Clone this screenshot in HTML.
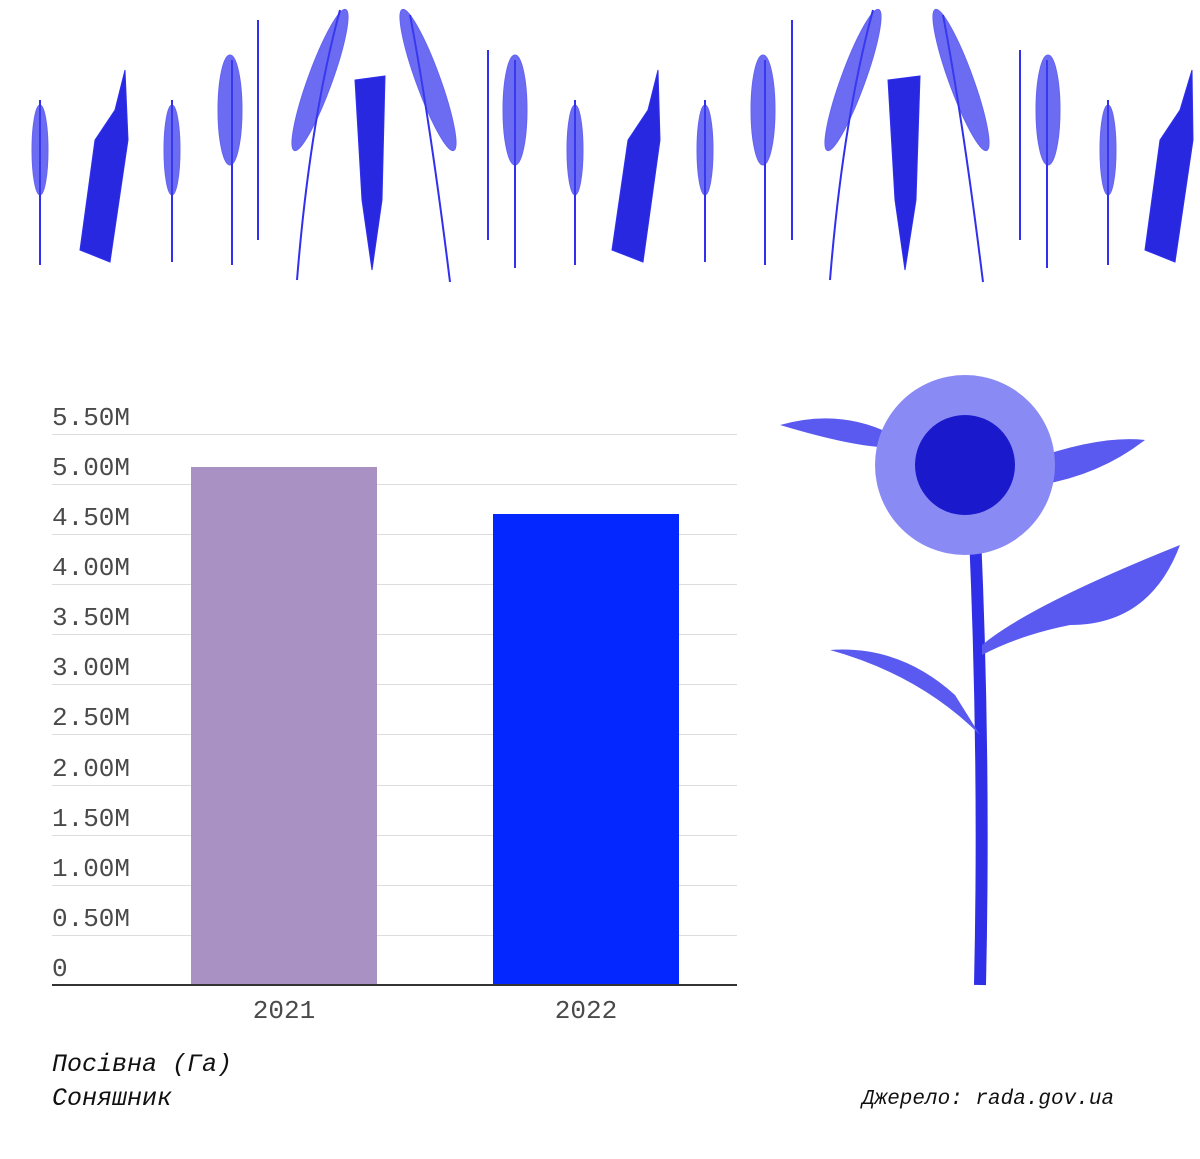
<!DOCTYPE html>
<html><head><meta charset="utf-8"><style>
body{margin:0;width:1200px;height:1159px;background:#fff;position:relative;overflow:hidden;font-family:"Liberation Mono",monospace}
.yl{position:absolute;left:52px;font-size:26px;color:#4a4a4a;line-height:1}
.g{position:absolute;left:52px;width:685px;height:1px;background:#ddd}
.xl{position:absolute;top:996px;font-size:26px;color:#4a4a4a;width:186px;text-align:center}
.t{position:absolute;left:52px;font-size:25px;font-style:italic;color:#111}
</style></head><body>
<svg width="1200" height="300" style="position:absolute;left:0;top:0" fill="#3b3bf0" stroke="#3030ee">
<g stroke-width="2" fill="none">
<path d="M40 265 V100"/><path d="M172 262 V100"/><path d="M232 265 V60"/><path d="M258 240 V20"/><path d="M297 280 Q310 120 340 10"/><path d="M450 282 Q430 120 410 15"/><path d="M488 240 V50"/><path d="M515 268 V60"/><path d="M575 265 V100"/><path d="M705 262 V100"/><path d="M765 265 V60"/><path d="M792 240 V20"/><path d="M830 280 Q843 120 873 10"/><path d="M983 282 Q963 120 943 15"/><path d="M1020 240 V50"/><path d="M1047 268 V60"/><path d="M1108 265 V100"/>
</g>
<g opacity="0.75">
<ellipse cx="40" cy="150" rx="8" ry="45"/><ellipse cx="172" cy="150" rx="8" ry="45"/><ellipse cx="230" cy="110" rx="12" ry="55"/><ellipse cx="320" cy="80" rx="12" ry="75" transform="rotate(20 320 80)"/><ellipse cx="428" cy="80" rx="12" ry="75" transform="rotate(-20 428 80)"/><ellipse cx="515" cy="110" rx="12" ry="55"/>
<ellipse cx="575" cy="150" rx="8" ry="45"/><ellipse cx="705" cy="150" rx="8" ry="45"/><ellipse cx="763" cy="110" rx="12" ry="55"/><ellipse cx="853" cy="80" rx="12" ry="75" transform="rotate(20 853 80)"/><ellipse cx="961" cy="80" rx="12" ry="75" transform="rotate(-20 961 80)"/><ellipse cx="1048" cy="110" rx="12" ry="55"/><ellipse cx="1108" cy="150" rx="8" ry="45"/>
</g>
<g fill="#2828e0">
<path d="M80 250 L95 140 L115 110 L125 70 L128 140 L110 262 Z"/>
<path d="M355 80 L385 76 L382 200 L372 270 L362 200 Z"/>
<path d="M612 250 L628 140 L648 110 L658 70 L660 140 L643 262 Z"/>
<path d="M888 80 L920 76 L916 200 L905 270 L895 200 Z"/>
<path d="M1145 250 L1160 140 L1180 110 L1192 70 L1193 140 L1175 262 Z"/>
</g>
</svg>
<div class="g" style="top:434px"></div><div class="g" style="top:484px"></div><div class="g" style="top:534px"></div><div class="g" style="top:584px"></div><div class="g" style="top:634px"></div><div class="g" style="top:684px"></div><div class="g" style="top:734px"></div><div class="g" style="top:785px"></div><div class="g" style="top:835px"></div><div class="g" style="top:885px"></div><div class="g" style="top:935px"></div>
<div class="yl" style="top:405px">5.50M</div><div class="yl" style="top:455px">5.00M</div><div class="yl" style="top:505px">4.50M</div><div class="yl" style="top:555px">4.00M</div><div class="yl" style="top:605px">3.50M</div><div class="yl" style="top:655px">3.00M</div><div class="yl" style="top:705px">2.50M</div><div class="yl" style="top:756px">2.00M</div><div class="yl" style="top:806px">1.50M</div><div class="yl" style="top:856px">1.00M</div><div class="yl" style="top:906px">0.50M</div><div class="yl" style="top:956px">0</div>
<div style="position:absolute;left:191px;top:467px;width:186px;height:518px;background:#a991c4"></div>
<div style="position:absolute;left:493px;top:514px;width:186px;height:471px;background:#0527ff"></div>
<div style="position:absolute;left:52px;top:984px;width:685px;height:2px;background:#333"></div>
<div class="xl" style="left:191px">2021</div><div class="xl" style="left:493px">2022</div>
<div class="t" style="top:1050px">Посівна (Га)</div>
<div class="t" style="top:1084px">Соняшник</div>
<div style="position:absolute;left:862px;top:1088px;font-size:21px;font-style:italic;color:#111">Джерело: rada.gov.ua</div>
<svg width="430" height="630" style="position:absolute;left:770px;top:365px">
<path d="M205 170 Q215 400 210 620" stroke="#2f2fe8" stroke-width="12" fill="none"/>
<path d="M210 370 Q150 310 60 285 Q130 280 185 330 Z" fill="#5a5af0"/>
<path d="M212 280 Q260 240 410 180 Q380 260 300 260 Q250 270 212 290Z" fill="#5a5af0"/>
<path d="M10 60 Q80 40 140 80 Q110 90 10 60Z" fill="#5a5af0"/>
<path d="M260 95 Q330 70 375 75 Q330 110 270 120Z" fill="#5a5af0"/>
<circle cx="195" cy="100" r="90" fill="#8a8af5"/>
<circle cx="195" cy="100" r="50" fill="#1a1acc"/>
</svg>
</body></html>
